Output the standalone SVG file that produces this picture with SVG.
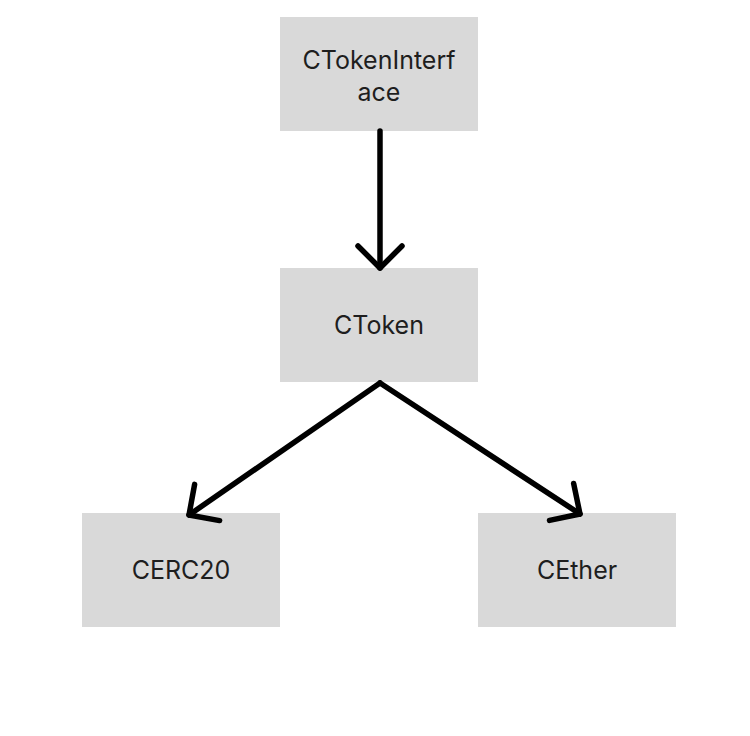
<svg xmlns="http://www.w3.org/2000/svg" width="750" height="736" viewBox="0 0 750 736">
<style>
.box{fill:#d9d9d9;}
.lbl{font-family:Inter,"Liberation Sans",sans-serif;font-size:25px;fill:#1e1e1e;text-anchor:middle;}
.edge{stroke:#000;stroke-width:5.5;fill:none;stroke-linecap:round;stroke-linejoin:round;}
</style>
<defs>
<marker id="arr" markerUnits="userSpaceOnUse" orient="auto" overflow="visible" markerWidth="10" markerHeight="10">
<path d="M -22 -22 L 0 0 L -22 22" fill="none" stroke="#000" stroke-width="5.5" stroke-linecap="round" stroke-linejoin="round"/>
</marker>
</defs>
<rect width="750" height="736" fill="#fff"/>
<g id="CTokenInterface">
<rect class="box" x="280" y="17" width="198" height="114"/>
<text class="lbl" x="379" y="69">CTokenInterf</text>
<text class="lbl" x="379" y="101">ace</text>
</g>
<g id="CToken">
<rect class="box" x="280" y="268" width="198" height="114"/>
<text class="lbl" x="379" y="334">CToken</text>
</g>
<g id="CERC20">
<rect class="box" x="82" y="513" width="198" height="114"/>
<text class="lbl" x="181" y="579">CERC20</text>
</g>
<g id="CEther">
<rect class="box" x="478" y="513" width="198" height="114"/>
<text class="lbl" x="577" y="579">CEther</text>
</g>
<g id="connectors">
<line class="edge" x1="380" y1="131" x2="380" y2="268" marker-end="url(#arr)"/>
<line class="edge" x1="380" y1="383" x2="189" y2="515" marker-end="url(#arr)"/>
<line class="edge" x1="380" y1="383" x2="580" y2="514" marker-end="url(#arr)"/>
</g>
</svg>
